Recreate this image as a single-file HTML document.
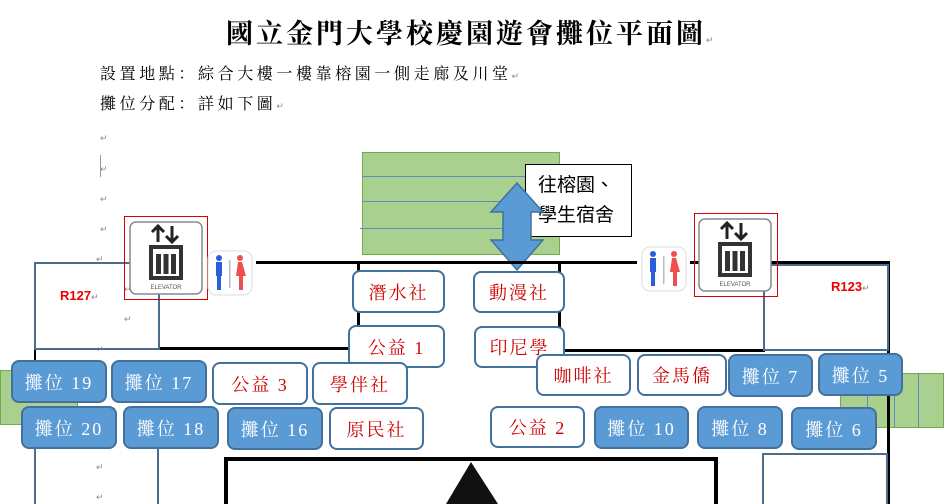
<!DOCTYPE html>
<html style="overflow:hidden;height:504px"><head><meta charset="utf-8"><style>
body{margin:0;width:951px;height:504px;overflow:hidden;background:#fff;position:relative;font-family:"Liberation Serif","Noto Serif CJK SC","Noto Sans CJK TC",serif}
.a{position:absolute}
.b{position:absolute;box-sizing:border-box;border:2px solid #41719c;border-radius:8px;background:#fff;color:#d00000;font-size:18px;display:flex;align-items:center;justify-content:center;letter-spacing:2px}
.f{background:#5b9bd5;color:#fff}
.r{position:absolute;font-size:9px;color:#888}
.ln{position:absolute;background:#000}
.bl{position:absolute;box-sizing:border-box;border:2px solid #4a6d8f}
</style></head><body>
<div class="a" style="left:226px;top:14px;font-size:27px;font-weight:bold;letter-spacing:3px;font-family:'Noto Serif CJK SC','Noto Sans CJK TC',serif;line-height:36px">國立金門大學校慶園遊會攤位平面圖<span style="font-size:9px;color:#888;font-weight:normal">↵</span></div>
<div class="a" style="left:100px;top:64px;font-size:16px;letter-spacing:3.6px;line-height:22px">設置地點：綜合大樓一樓靠榕園一側走廊及川堂<span style="font-size:9px;color:#888">↵</span></div>
<div class="a" style="left:100px;top:94px;font-size:16px;letter-spacing:3.6px;line-height:22px">攤位分配：詳如下圖<span style="font-size:9px;color:#888">↵</span></div>
<div class="r" style="left:100px;top:133px">↵</div><div class="r" style="left:100px;top:164px">↵</div><div class="r" style="left:100px;top:194px">↵</div><div class="r" style="left:100px;top:224px">↵</div><div class="r" style="left:96px;top:254px">↵</div><div class="r" style="left:124px;top:284px">↵</div><div class="r" style="left:124px;top:314px">↵</div><div class="r" style="left:96px;top:344px">↵</div><div class="r" style="left:96px;top:462px">↵</div><div class="r" style="left:96px;top:492px">↵</div>
<div class="a" style="left:100px;top:155px;width:1px;height:22px;background:#999"></div>
<div class="a" style="left:362px;top:152px;width:198px;height:103px;background:#a9d08e;border:1px solid #70ad47;box-sizing:border-box"></div>
<div class="a" style="left:362px;top:176px;width:198px;height:1px;background:#5b8fc0"></div>
<div class="a" style="left:362px;top:201px;width:198px;height:1px;background:#5b8fc0"></div>
<div class="a" style="left:360px;top:228px;width:200px;height:1px;background:#5b8fc0"></div>
<div class="a" style="left:0;top:370px;width:78px;height:55px;background:#a9d08e;border:1px solid #70ad47;box-sizing:border-box"></div>
<div class="a" style="left:840px;top:373px;width:104px;height:55px;background:#a9d08e;border:1px solid #70ad47;box-sizing:border-box"></div>
<div class="a" style="left:867px;top:373px;width:1px;height:55px;background:#5b8fc0"></div><div class="a" style="left:894px;top:373px;width:1px;height:55px;background:#5b8fc0"></div><div class="a" style="left:918px;top:373px;width:1px;height:55px;background:#5b8fc0"></div>
<div class="a" style="left:525px;top:164px;width:107px;height:73px;border:1px solid #000;box-sizing:border-box;background:#fff;font-family:'Noto Sans CJK TC',sans-serif;font-size:19px;line-height:30px;padding:4px 0 0 12px;white-space:nowrap">往榕園、<br>學生宿舍</div>
<svg class="a" style="left:489px;top:182px" width="56" height="90"><polygon points="28,1 54,30 42,30 42,58 54,58 28,88 2,58 14,58 14,30 2,30" fill="#5b9bd5" stroke="#41719c" stroke-width="1.5"/></svg>
<div class="ln" style="left:180px;top:261px;width:22px;height:3px"></div>
<div class="ln" style="left:256px;top:261px;width:381px;height:3px"></div>
<div class="ln" style="left:690px;top:261px;width:199px;height:3px"></div>
<div class="ln" style="left:887px;top:261px;width:3px;height:243px"></div>
<div class="ln" style="left:158px;top:347px;width:202px;height:3px"></div>
<div class="ln" style="left:357px;top:262px;width:3px;height:88px"></div>
<div class="ln" style="left:558px;top:262px;width:3px;height:90px"></div>
<div class="ln" style="left:558px;top:349px;width:207px;height:3px"></div>
<div class="ln" style="left:34px;top:348px;width:2px;height:12px"></div>
<div class="a" style="left:224px;top:457px;width:494px;height:47px;border:4px solid #000;border-bottom:none;box-sizing:border-box"></div>
<svg class="a" style="left:440px;top:462px" width="64" height="42"><polygon points="31,0 6,42 58,42" fill="#111"/></svg>
<div class="bl" style="left:34px;top:262px;width:126px;height:88px"></div>
<div class="a" style="left:158px;top:293px;width:2px;height:57px;background:#4a6d8f"></div>
<div class="a" style="left:34px;top:448px;width:2px;height:56px;background:#4a6d8f"></div>
<div class="a" style="left:157px;top:448px;width:2px;height:56px;background:#4a6d8f"></div>
<div class="bl" style="left:763px;top:264px;width:126px;height:87px"></div>
<div class="bl" style="left:762px;top:453px;width:126px;height:51px;border-bottom:none"></div>
<div class="a" style="left:60px;top:288px;color:#e00;font:bold 13px 'Liberation Sans',sans-serif">R127<span style="font-size:9px;color:#888;font-weight:normal">↵</span></div>
<div class="a" style="left:831px;top:279px;color:#e00;font:bold 13px 'Liberation Sans',sans-serif">R123<span style="font-size:9px;color:#888;font-weight:normal">↵</span></div>
<div class="a" style="left:124px;top:216px;width:84px;height:84px;border:1px solid #d00;box-sizing:border-box"></div>
<div class="a" style="left:694px;top:213px;width:84px;height:84px;border:1px solid #d00;box-sizing:border-box"></div>
<svg class="a" style="left:129px;top:221px" width="74" height="74"><rect x="1" y="1" width="72" height="72" rx="6" fill="#fff" stroke="#888" stroke-width="1.5"/><path d="M29 5v16M23 11l6-6 6 6M43 5v16M37 15l6 6 6-6" stroke="#222" stroke-width="3" fill="none"/><rect x="20" y="24" width="34" height="35" fill="#333"/><rect x="24" y="28" width="26" height="27" fill="#fff"/><g fill="#333"><rect x="27" y="33" width="5" height="20"/><rect x="34.5" y="33" width="5" height="20"/><rect x="42" y="33" width="5" height="20"/></g><text x="37" y="68" font-size="6" text-anchor="middle" fill="#555" font-family="Liberation Sans">ELEVATOR</text></svg>
<svg class="a" style="left:698px;top:218px" width="74" height="74"><rect x="1" y="1" width="72" height="72" rx="6" fill="#fff" stroke="#888" stroke-width="1.5"/><path d="M29 5v16M23 11l6-6 6 6M43 5v16M37 15l6 6 6-6" stroke="#222" stroke-width="3" fill="none"/><rect x="20" y="24" width="34" height="35" fill="#333"/><rect x="24" y="28" width="26" height="27" fill="#fff"/><g fill="#333"><rect x="27" y="33" width="5" height="20"/><rect x="34.5" y="33" width="5" height="20"/><rect x="42" y="33" width="5" height="20"/></g><text x="37" y="68" font-size="6" text-anchor="middle" fill="#555" font-family="Liberation Sans">ELEVATOR</text></svg>
<svg class="a" style="left:207px;top:250px" width="46" height="46"><rect x="1" y="1" width="44" height="44" rx="8" fill="#fff" stroke="#ddd"/><circle cx="12" cy="8" r="3" fill="#2b5fd9"/><path d="M9 12h6v14h-1v14h-4v-14h-1z" fill="#2b5fd9"/><rect x="22" y="10" width="1.5" height="28" fill="#bbb"/><circle cx="33" cy="8" r="3" fill="#f04e4e"/><path d="M31 12h4l4 14h-3v14h-4v-14h-3z" fill="#f04e4e"/></svg>
<svg class="a" style="left:641px;top:246px" width="46" height="46"><rect x="1" y="1" width="44" height="44" rx="8" fill="#fff" stroke="#ddd"/><circle cx="12" cy="8" r="3" fill="#2b5fd9"/><path d="M9 12h6v14h-1v14h-4v-14h-1z" fill="#2b5fd9"/><rect x="22" y="10" width="1.5" height="28" fill="#bbb"/><circle cx="33" cy="8" r="3" fill="#f04e4e"/><path d="M31 12h4l4 14h-3v14h-4v-14h-3z" fill="#f04e4e"/></svg>
<div class="b" style="left:352px;top:270px;width:93px;height:43px">潛水社</div>
<div class="b" style="left:473px;top:271px;width:92px;height:42px">動漫社</div>
<div class="b" style="left:348px;top:325px;width:97px;height:43px">公益 1</div>
<div class="b" style="left:474px;top:326px;width:91px;height:42px">印尼學</div>
<div class="b" style="left:536px;top:354px;width:95px;height:42px">咖啡社</div>
<div class="b" style="left:637px;top:354px;width:90px;height:42px">金馬僑</div>
<div class="b f" style="left:728px;top:354px;width:85px;height:43px">攤位 7</div>
<div class="b f" style="left:818px;top:353px;width:85px;height:43px">攤位 5</div>
<div class="b" style="left:490px;top:406px;width:95px;height:42px">公益 2</div>
<div class="b f" style="left:594px;top:406px;width:95px;height:43px">攤位 10</div>
<div class="b f" style="left:697px;top:406px;width:86px;height:43px">攤位 8</div>
<div class="b f" style="left:791px;top:407px;width:86px;height:43px">攤位 6</div>
<div class="b f" style="left:11px;top:360px;width:96px;height:43px">攤位 19</div>
<div class="b f" style="left:111px;top:360px;width:96px;height:43px">攤位 17</div>
<div class="b" style="left:212px;top:362px;width:96px;height:43px">公益 3</div>
<div class="b" style="left:312px;top:362px;width:96px;height:43px">學伴社</div>
<div class="b f" style="left:21px;top:406px;width:96px;height:43px">攤位 20</div>
<div class="b f" style="left:123px;top:406px;width:96px;height:43px">攤位 18</div>
<div class="b f" style="left:227px;top:407px;width:96px;height:43px">攤位 16</div>
<div class="b" style="left:329px;top:407px;width:95px;height:43px">原民社</div>
</body></html>
